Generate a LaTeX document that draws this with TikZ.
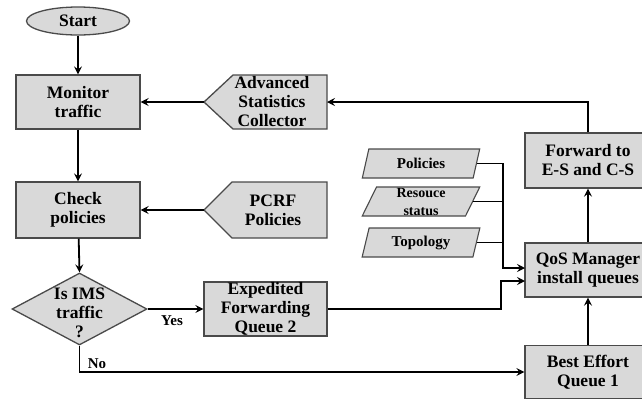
\documentclass[tikz,border=0pt]{standalone}
\usepackage{fontspec}
\setmainfont{Liberation Serif}
\newfontfamily\diagfont{Liberation Serif}
\usetikzlibrary{shapes.geometric,arrows.meta}

\definecolor{boxfill}{HTML}{D9D9D9}
\definecolor{boxline}{HTML}{4A4A4A}

\tikzset{
  every node/.style={font=\diagfont\bfseries\fontsize{17.5}{19}\selectfont, align=center, inner sep=0pt},
  procbox/.style={draw=boxline, fill=boxfill, line width=1.3pt, rectangle},
  inbox/.style={draw=boxline, fill=boxfill, line width=1.1pt, trapezium,
    trapezium left angle=74, trapezium right angle=106, trapezium stretches=true,
    minimum width=118pt, minimum height=29pt},
  decision/.style={draw=boxline, fill=boxfill, line width=1.3pt, diamond,
    minimum width=135pt, minimum height=72pt},
  startshape/.style={draw=boxline, fill=boxfill, line width=1.3pt, ellipse,
    minimum width=103pt, minimum height=28pt},
  flow/.style={line width=1.8pt, -{Stealth[length=8pt,width=8pt,inset=3pt]}},
  plain/.style={line width=1.8pt},
  lbl/.style={font=\diagfont\bfseries\fontsize{15}{15}\selectfont},
  srcshape/.style={draw=boxline, fill=boxfill, line width=1.3pt}
}

\begin{document}
\begin{tikzpicture}[x=1pt,y=-1pt]
\useasboundingbox (0,0) rectangle (642,400);
\clip (0,0) rectangle (642,400);

% left column
\node[startshape] (start) at (78,21) {Start};
\node[procbox, minimum width=124pt, minimum height=54pt] (mon) at (78,102) {Monitor\\traffic};
\node[procbox, minimum width=124pt, minimum height=56pt] (chk) at (78,210) {Check\\policies};
\node[decision] (ims) at (79.5,309) {};
\node at (79.5,313) {Is IMS\\traffic\\?};

% external sources, pointed on the left
\draw[srcshape] (204,102) -- (233,75) -- (327,75) -- (327,129) -- (233,129) -- cycle;
\node (asc) at (272,102) {Advanced\\Statistics\\Collector};
\coordinate (asctip) at (204,102);
\coordinate (ascright) at (327,102);

\draw[srcshape] (204,210) -- (232,182) -- (327,182) -- (327,238) -- (232,238) -- cycle;
\node (pcrf) at (273,210) {PCRF\\Policies};
\coordinate (pcrftip) at (204,210);

% queues and manager
\node[procbox, minimum width=123pt, minimum height=54pt] (exp) at (265.5,309) {Expedited\\Forwarding\\Queue 2};
\node[procbox, minimum width=126pt, minimum height=55pt] (fwd) at (588,160.5) {Forward to\\E-S and C-S};
\node[procbox, minimum width=126pt, minimum height=54pt] (qos) at (588,270) {QoS Manager\\install queues};
\node[procbox, minimum width=126pt, minimum height=53pt] (be) at (588,372) {Best Effort\\Queue 1};

% data inputs
\node[inbox] (pol) at (421,163.5) {\fontsize{15}{15}\selectfont Policies};
\node[inbox] (res) at (421,201.5) {\fontsize{14}{15}\selectfont Resouce\\[-1pt]\fontsize{14}{15}\selectfont status};
\node[inbox] (topo) at (421,242.5) {\fontsize{15}{15}\selectfont Topology};

\coordinate (qin1) at (525,268);
\coordinate (qin2) at (525,281);
\coordinate (qbend) at (503,268);
\coordinate (ebend) at (501,281);

% connectors
\draw[flow] (start) -- (mon);
\draw[flow] (mon) -- (chk);
\draw[flow] (chk) -- (ims.north);
\draw[flow] (asctip) -- (mon.east);
\draw[flow] (pcrftip) -- (chk.east);
\draw[flow] (ims.east) -- (exp.west);
\node[lbl] at (172,321) {Yes};
\draw[flow] (ims.south) |- (be.west);
\node[lbl] at (97,364) {No};
\draw[flow] (be.north) -- (qos.south);
\draw[flow] (qos.north) -- (fwd.south);
\draw[flow] (fwd.north) |- (ascright);
\draw[flow] (pol.east) -| (qbend) -- (qin1);
\draw[plain] (res.east) -- (res.east -| qbend);
\draw[plain] (topo.east) -- (topo.east -| qbend);
\draw[flow] (exp.east) -| (ebend) -- (qin2);
\end{tikzpicture}
\end{document}
